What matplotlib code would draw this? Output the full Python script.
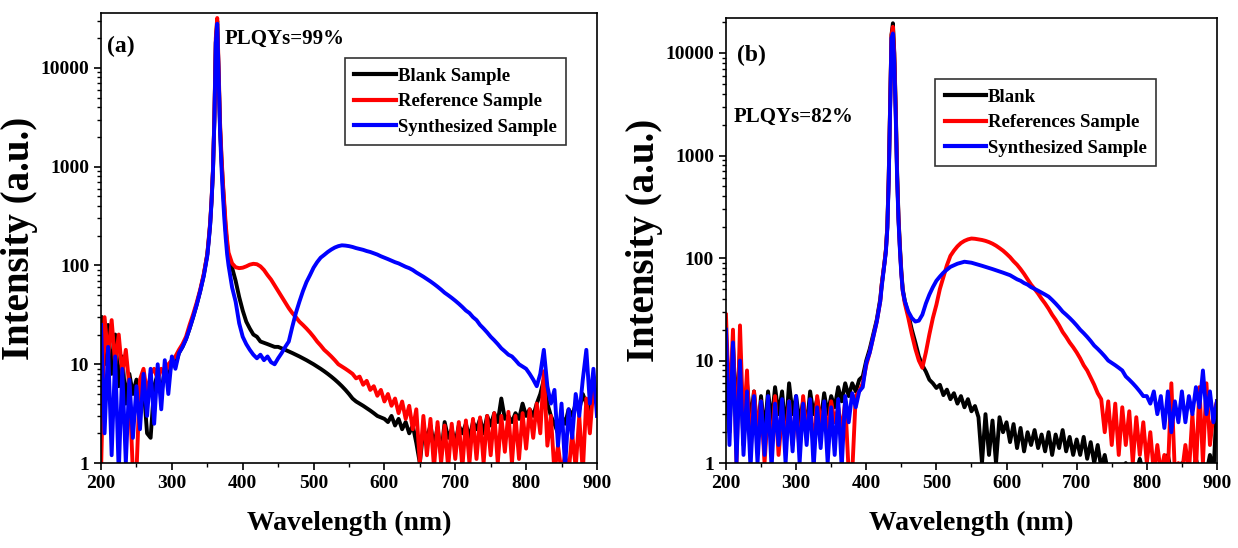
import numpy as np
import matplotlib
matplotlib.use("Agg")
import matplotlib.pyplot as plt
from matplotlib.ticker import FixedLocator, NullFormatter, LogLocator

plt.rcParams['font.family'] = ['Liberation Serif', 'DejaVu Serif']
plt.rcParams['font.weight'] = 'bold'

# ---- panel (a): wavelength grid (coarse / fine around the 363 nm line / coarse)
wl_a = np.concatenate([np.arange(200, 350, 5), np.arange(350, 382, 2), np.arange(385, 901, 5)])

blank_a = [
    30, 10, 25, 8, 20, 6, 12, 4, 8, 5,                       # 200-245
    7, 4, 6, 2, 1.8, 6, 8, 5, 9, 7,                          # 250-295
    11, 10, 13, 15, 18, 23, 30, 40, 55, 80,                  # 300-345
    130, 180, 260, 450, 900, 3000, 18000, 30000,             # 350-364
    9000, 2500, 1200, 650, 380, 230, 160, 120,               # 366-380
    95, 70, 48, 35, 27, 23, 20, 19, 17, 16.5,                # 385-430
    16, 15.5, 15, 15, 14.5, 14, 13.5, 13, 12.5, 12,          # 435-480
    11.5, 11, 10.5, 10, 9.5, 9, 8.5, 8, 7.5, 7,              # 485-530
    6.5, 6, 5.5, 5, 4.5, 4.2, 4, 3.8, 3.6, 3.4,              # 535-580
    3.2, 3.0, 2.9, 2.8, 2.6, 3.0, 2.4, 2.8, 2.2, 2.6,        # 585-630
    2.0, 2.4, 1.6, 1.0, 2.2, 1.8, 2.4, 1.5, 2.3, 1.2,        # 635-680
    2.6, 1.8, 2.2, 1.6, 2.4, 2.0, 2.5, 1.8, 2.6, 2.2,        # 685-730
    2.8, 2.0, 3.0, 2.4, 3.2, 2.6, 4.5, 2.8, 3.0, 2.6,        # 735-780
    3.2, 2.8, 4.0, 3.0, 3.5, 3.0, 4.0, 5.0, 7.0, 4.0,        # 785-830
    3.0, 2.5, 2.0, 3.0, 2.5, 3.5, 3.0, 4.0, 3.5, 5.0,        # 835-880
    4.0, 3.5, 5.0, 4.0,                                      # 885-900
]

reference_a = [
    0.8, 30, 12, 28, 10, 20, 8, 14, 6, 0.8,                  # 200-245
    0.8, 7, 9, 5, 8, 9, 7, 9, 8, 10,                         # 250-295
    11, 12, 14, 16, 19, 25, 32, 42, 57, 82,                  # 300-345
    130, 185, 270, 460, 950, 3200, 20000, 32000,             # 350-364
    10000, 2800, 1300, 700, 420, 260, 180, 135,              # 366-380
    105, 96, 94, 95, 98, 102, 104, 103, 98, 90,              # 385-430
    80, 72, 63, 55, 48, 42, 37, 33, 30, 27,                  # 435-480
    25, 23, 21, 19, 17, 15.5, 14, 13, 12, 11,                # 485-530
    10, 9.5, 9, 8.5, 8, 7.2, 7.5, 6.2, 6.8, 5.5,             # 535-580
    6.0, 4.8, 5.5, 4.2, 5.0, 3.8, 4.5, 3.2, 4.2, 2.8,        # 585-630
    3.8, 2.2, 3.5, 1.0, 3.0, 1.2, 2.8, 0.9, 2.6, 1.0,        # 635-680
    2.4, 0.9, 2.5, 1.1, 2.6, 0.9, 2.7, 1.0, 2.8, 1.1,        # 685-730
    2.9, 1.0, 3.0, 1.2, 3.2, 1.0, 3.0, 1.3, 3.3, 1.0,        # 735-780
    3.0, 1.1, 3.2, 1.4, 3.5, 1.8, 4.0, 2.0, 8.5, 1.5,        # 785-830
    3.0, 0.8, 1.5, 0.8, 1.2, 0.8, 2.0, 0.9, 3.0, 0.8,        # 835-880
    4.5, 2.0, 6.0, 5.0,                                      # 885-900
]

synth_a = [
    25, 2, 15, 1.2, 12, 0.8, 9, 1.0, 7, 1.8,                 # 200-245
    6, 2.2, 8, 3, 9, 2.5, 10, 3.5, 11, 5,                    # 250-295
    12, 9, 13, 15, 18, 23, 30, 40, 55, 78,                   # 300-345
    125, 175, 255, 440, 900, 3000, 18000, 28000,             # 350-364
    8500, 2300, 1000, 520, 300, 190, 130, 100,               # 366-380
    60, 43, 26, 19, 16, 14, 12.5, 11.5, 12.5, 11,            # 385-430
    12, 10.5, 10, 11.5, 13, 15, 17, 24, 33, 43,              # 435-480
    55, 68, 80, 95, 108, 120, 128, 137, 145, 152,            # 485-530
    157, 160, 159, 157, 154, 150, 147, 144, 140, 137,        # 535-580
    133, 129, 124, 120, 116, 112, 108, 105, 101, 97,         # 585-630
    94, 90, 85, 81, 77, 73, 69, 65, 61, 57,                  # 635-680
    53, 50, 47, 44, 41, 38, 35, 33, 30, 28,                  # 685-730
    25, 23, 21, 19, 17.5, 16, 14.5, 13.5, 12.5, 12,          # 735-780
    11, 10, 9.5, 9, 8, 7, 6, 8, 14, 6,                       # 785-830
    4, 5.5, 1.5, 4, 0.9, 3.5, 1.8, 5, 3, 7,                  # 835-880
    14, 4, 9, 3,                                             # 885-900
]

# ---- panel (b): fine sampling around the 437 nm line
wl_b = np.concatenate([np.arange(200, 421, 5), np.arange(422, 453, 2), np.arange(455, 901, 5)])

blank_b = [
    8, 2, 14, 3, 12, 1.5, 6, 2.5, 5, 1.8,                    # 200-245
    4.5, 2, 5, 2.5, 5.5, 3, 5, 2, 6, 3,                      # 250-295
    4.5, 2.5, 4, 2.2, 5, 3, 4.2, 2.5, 4.8, 3,                # 300-345
    4.5, 3.5, 5.5, 4, 6, 4.5, 6, 5, 6.5, 7,                  # 350-395
    10, 13, 18, 25, 40,                                      # 400-420
    55, 70, 90, 120, 200, 600, 3000, 15000,                  # 422-436
    19500, 10000, 3000, 700, 250, 130, 75, 50,               # 438-452
    38, 28, 20, 15, 11, 9, 7.8, 6.5, 6, 5.4,                 # 455-500
    5.8, 4.6, 5.2, 4.2, 4.8, 3.8, 4.5, 3.5, 4.2, 3.2,        # 505-550
    3.6, 2.8, 1.0, 3.0, 1.2, 2.6, 1.0, 2.8, 2.0, 2.5,        # 555-600
    1.6, 2.4, 1.4, 2.2, 1.3, 2.0, 1.5, 2.1, 1.4, 1.9,        # 605-650
    1.3, 2.0, 1.2, 1.9, 1.4, 2.1, 1.3, 1.8, 1.2, 1.7,        # 655-700
    1.2, 1.8, 1.1, 1.6, 1.0, 1.5, 0.9, 1.2, 0.8, 0.9,        # 705-750
    0.8, 0.9, 0.8, 1.0, 0.8, 0.9, 0.8, 1.1, 0.8, 1.0,        # 755-800
    0.8, 0.9, 0.8, 1.0, 0.8, 1.2, 0.8, 0.9, 0.8, 1.0,        # 805-850
    0.8, 1.0, 0.8, 1.1, 0.8, 1.0, 0.8, 1.2, 0.8, 4.0,        # 855-900
]

reference_b = [
    28, 3, 20, 1, 22, 2, 8, 1.2, 5, 2,                       # 200-245
    4, 1, 3.5, 1.5, 4.5, 1.2, 3, 1.8, 4, 1.5,                # 250-295
    3.5, 1.3, 4.5, 2, 3, 1.5, 4.5, 2.5, 3.5, 2,              # 300-345
    4, 2.5, 3.5, 2, 4, 0.8, 0.8, 4.5, 5, 6,                  # 350-395
    9, 12, 17, 24, 38,                                       # 400-420
    55, 70, 90, 120, 200, 600, 3000, 15000,                  # 422-436
    18000, 9500, 2800, 650, 240, 125, 72, 48,                # 438-452
    36, 26, 18, 13, 10, 8.5, 12, 18, 26, 35,                 # 455-500
    50, 65, 85, 105, 118, 130, 140, 147, 152, 155,           # 505-550
    154, 152, 150, 147, 143, 138, 132, 125, 118, 110,        # 555-600
    102, 93, 86, 78, 70, 62, 55, 50, 45, 40,                 # 605-650
    36, 32, 28, 25, 22, 19, 17, 15, 13.5, 12,                # 655-700
    10.5, 9, 8, 6.8, 5.8, 4.8, 4.2, 2.0, 4.0, 1.5,           # 705-750
    3.8, 1.2, 3.5, 1.5, 3.2, 1.0, 2.8, 1.2, 2.5, 1.0,        # 755-800
    2.0, 0.8, 1.5, 0.8, 1.2, 0.8, 6.0, 0.8, 1.0, 0.8,        # 805-850
    1.5, 0.8, 3.0, 0.8, 5.5, 1.0, 6.0, 1.5, 3.0, 4.0,        # 855-900
]

synth_b = [
    20, 1.5, 15, 1, 10, 1.2, 5, 0.9, 4.5, 1,                 # 200-245
    4, 1.2, 4.5, 0.9, 3.8, 1.5, 4.2, 1, 4, 1.3,              # 250-295
    4.5, 1, 3.8, 1.5, 4.2, 0.9, 3.5, 1.4, 4, 1,              # 300-345
    3.5, 1.2, 4.2, 0.9, 4.5, 2.5, 4.8, 3.5, 5, 5.5,          # 350-395
    9.5, 12, 17, 24, 38,                                     # 400-420
    52, 68, 88, 115, 190, 550, 2800, 14000,                  # 422-436
    15500, 8000, 2500, 600, 230, 120, 70, 48,                # 438-452
    38, 30, 26, 24, 24.5, 28, 36, 44, 52, 60,                # 455-500
    66, 72, 77, 82, 85, 88, 90, 92, 91, 90,                  # 505-550
    88, 86, 84, 82, 80, 78, 76, 74, 72, 70,                  # 555-600
    68, 65, 62, 60, 57, 55, 52, 50, 48, 46,                  # 605-650
    44, 42, 39, 36, 33, 30, 28, 26, 24, 22,                  # 655-700
    20, 18.5, 17, 15.5, 14, 13, 12, 11, 10, 9.5,             # 705-750
    9, 8.5, 8, 7, 6.5, 6, 5.5, 5, 4.5, 4.5,                  # 755-800
    3.8, 5, 3, 4.5, 2.2, 5, 2, 4, 2.5, 5,                    # 805-850
    2.5, 4.5, 3, 5.5, 3.5, 8, 3, 5, 2.5, 4,                  # 855-900
]

labels_a = ['Blank Sample', 'Reference Sample', 'Synthesized Sample']
labels_b = ['Blank', 'References Sample', 'Synthesized Sample']
colors = ['black', 'red', 'blue']


def style_axis(ax, ymax):
    ax.set_yscale('log')
    ax.set_xlim(200, 900)
    ax.set_ylim(1, ymax)
    ax.set_xticks(np.arange(200, 901, 100))
    ax.xaxis.set_minor_locator(FixedLocator(np.arange(250, 900, 100)))
    ax.set_yticks([1, 10, 100, 1000, 10000])
    ax.set_yticklabels(['1', '10', '100', '1000', '10000'])
    ax.yaxis.set_minor_locator(LogLocator(base=10, subs=np.arange(2, 10)))
    ax.yaxis.set_minor_formatter(NullFormatter())
    ax.tick_params(which='major', direction='out', length=5, width=1.2,
                   labelsize=14, top=False, right=False)
    ax.tick_params(which='minor', direction='out', length=3, width=1,
                   top=False, right=False)
    for lab in ax.get_xticklabels() + ax.get_yticklabels():
        lab.set_fontweight('bold')
    for sp in ax.spines.values():
        sp.set_linewidth(1.2)
    ax.set_xlabel('Wavelength (nm)', fontsize=20, fontweight='bold', labelpad=14)
    ax.set_ylabel('Intensity (a.u.)', fontsize=28, fontweight='bold', labelpad=2)


fig = plt.figure(figsize=(12.38, 5.48), dpi=100)
ax1 = fig.add_axes([0.0816, 0.155, 0.4006, 0.8207])
ax2 = fig.add_axes([0.5864, 0.155, 0.3966, 0.812])

for ys, lab, c in zip([blank_a, reference_a, synth_a], labels_a, colors):
    ax1.plot(wl_a, ys, color=c, lw=2.8, label=lab)
for ys, lab, c in zip([blank_b, reference_b, synth_b], labels_b, colors):
    ax2.plot(wl_b, ys, color=c, lw=2.8, label=lab)

style_axis(ax1, 35700)
style_axis(ax2, 21900)

ax1.text(0.012, 0.95, '(a)', transform=ax1.transAxes, fontsize=17,
         fontweight='bold', va='top')
ax1.text(0.25, 0.965, 'PLQYs=99%', transform=ax1.transAxes, fontsize=15,
         fontweight='bold', va='top')
ax2.text(0.022, 0.94, '(b)', transform=ax2.transAxes, fontsize=17,
         fontweight='bold', va='top')
ax2.text(0.015, 0.8, 'PLQYs=82%', transform=ax2.transAxes, fontsize=15,
         fontweight='bold', va='top')

for ax, anchor in [(ax1, (0.492, 0.9)), (ax2, (0.426, 0.863))]:
    leg = ax.legend(loc='upper left', bbox_to_anchor=anchor, fontsize=13.5,
                    frameon=True, fancybox=False, edgecolor='black',
                    handlelength=2.2, handletextpad=0.1, labelspacing=0.45,
                    borderpad=0.5, borderaxespad=0)
    leg.get_frame().set_linewidth(1.2)
    for line in leg.get_lines():
        line.set_linewidth(3)
    for t in leg.get_texts():
        t.set_fontweight('bold')

fig.savefig('out.png', dpi=100)
